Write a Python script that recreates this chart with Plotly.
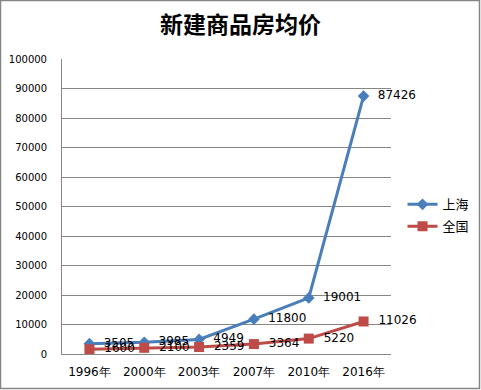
import plotly.graph_objects as go

years = ["1996年", "2000年", "2003年", "2007年", "2010年", "2016年"]
shanghai = [3505, 3985, 4949, 11800, 19001, 87426]
national = [1600, 2100, 2359, 3364, 5220, 11026]

W, H = 481, 390
L, R, T, B = 62, 90, 59, 36
pw, ph = W - L - R, H - T - B

fig = go.Figure()
fig.add_trace(go.Scatter(
    x=years, y=shanghai, name="上海", mode="lines+markers+text", legendgroup="a",
    line=dict(color="#4a7ebb", width=3),
    marker=dict(symbol="diamond", size=9, color="#4a7ebb"),
    text=["  " + str(v) for v in shanghai], textposition="middle right",
    textfont=dict(size=12, color="#000000", family="DejaVu Sans"),
    cliponaxis=False,
))
fig.add_trace(go.Scatter(
    x=years, y=national, name="全国", mode="lines+markers+text", legendgroup="b",
    line=dict(color="#be4b48", width=3),
    marker=dict(symbol="square", size=10, color="#be4b48"),
    text=["  " + str(v) for v in national], textposition="middle right",
    textfont=dict(size=12, color="#000000", family="DejaVu Sans"),
    cliponaxis=False,
))

fig.update_layout(
    width=W, height=H,
    margin=dict(l=L, r=R, t=T, b=B, autoexpand=False),
    paper_bgcolor="white", plot_bgcolor="white",
    title=dict(text="<b>新建商品房均价</b>", x=0.5, xanchor="center", y=1 - 25 / H, yanchor="middle",
               font=dict(size=23, family="Noto Sans CJK SC", color="black")),
    font=dict(family="DejaVu Sans", size=11, color="black"),
    showlegend=True,
    legend=dict(x=1.035, xanchor="left", y=0.47, yanchor="middle",
                font=dict(size=13, family="Noto Sans CJK SC"), tracegroupgap=2,
                traceorder="grouped", bgcolor="rgba(0,0,0,0)"),
    xaxis=dict(type="category", range=[-0.5, 5.5], showgrid=False, showline=True, automargin=False,
               linecolor="#868686", linewidth=1, ticks="", ticklabelstandoff=7,
               tickfont=dict(size=12, family="DejaVu Sans")),
    yaxis=dict(range=[0, 100000], dtick=10000, showgrid=True, gridcolor="#868686", gridwidth=1,
               showline=True, linecolor="#868686", linewidth=1, ticks="", zeroline=False,
               ticklabelstandoff=12, automargin=False,
               tickfont=dict(size=10, family="DejaVu Sans"), tickformat="d"),
    shapes=[dict(type="rect", xref="paper", yref="paper",
                 x0=-(L - 0.5) / pw, x1=1 + (R - 1.5) / pw,
                 y0=-(B - 1.5) / ph, y1=1 + (T - 0.5) / ph,
                 line=dict(color="#868686", width=1.5))],
)

fig.write_html("out.html", config={"displayModeBar": False},
               post_script="document.body.style.margin='0';document.body.style.overflow='hidden';")
